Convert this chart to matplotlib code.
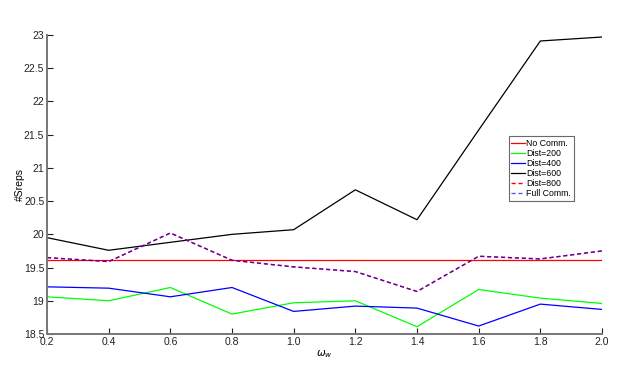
import numpy as np
import matplotlib.pyplot as plt

plt.rcParams['font.family'] = ['Liberation Sans', 'DejaVu Sans']

omega = [0.2, 0.4, 0.6, 0.8, 1.0, 1.2, 1.4, 1.6, 1.8, 2.0]
no_comm = [19.61] * 10
dist200 = [19.06, 19.00, 19.20, 18.80, 18.97, 19.00, 18.61, 19.17, 19.04, 18.96]
dist400 = [19.21, 19.19, 19.06, 19.20, 18.84, 18.92, 18.89, 18.62, 18.95, 18.87]
dist600 = [19.95, 19.76, 19.88, 20.00, 20.07, 20.67, 20.22, 21.57, 22.91, 22.97]
dist800 = [19.65, 19.59, 20.02, 19.61, 19.51, 19.44, 19.14, 19.67, 19.63, 19.75]
full_comm = [19.65, 19.59, 20.02, 19.61, 19.51, 19.44, 19.14, 19.67, 19.63, 19.75]

xticks = [0.2, 0.4, 0.6, 0.8, 1.0, 1.2, 1.4, 1.6, 1.8, 2.0]
yticks = [18.5, 19, 19.5, 20, 20.5, 21, 21.5, 22, 22.5, 23]

fig = plt.figure(figsize=(6.21, 3.67), dpi=100)
ax = fig.add_axes([0.0757, 0.0899, 0.8937, 0.8147])

ax.plot(omega, no_comm, color='#ff0000', lw=0.9, label='No Comm.')
ax.plot(omega, dist200, color='#00ff00', lw=0.9, label='Dist=200')
ax.plot(omega, dist400, color='#0000ff', lw=0.9, label='Dist=400')
ax.plot(omega, dist600, color='black', lw=0.9, label='Dist=600')
ax.plot(omega, dist800, color='#ff0000', lw=1.0, ls=(0, (3, 2)), label='Dist=800')
ax.plot(omega, full_comm, color='#0000ff', lw=1.0, ls=(0, (3, 2)), alpha=0.65,
        label='Full Comm.')

ax.set_xlim(0.2, 2.0)
ax.set_ylim(18.5, 23)
ax.set_xticks(xticks)
ax.set_xticklabels(['%.1f' % v for v in xticks])
ax.set_yticks(yticks)
ax.set_yticklabels(['%g' % v for v in yticks])

for s in ['top', 'right']:
    ax.spines[s].set_visible(False)
for s in ['left', 'bottom']:
    ax.spines[s].set_color('#777777')
    ax.spines[s].set_linewidth(1.4)
ax.tick_params(direction='in', length=4, width=0.8, labelsize=7.5, pad=2,
               colors='#222222')

ax.set_ylabel('#Sreps', fontsize=7.5, labelpad=-1)
ax.set_xlabel(r'$\omega_w$', fontsize=7.5, labelpad=1)

leg = ax.legend(loc='upper left', bbox_to_anchor=(0.832, 0.662),
                fontsize=6.3, handlelength=1.5, handletextpad=0.2,
                borderpad=0.3, labelspacing=0.12, frameon=True, fancybox=False,
                borderaxespad=0)
leg.get_frame().set_edgecolor('#444444')
leg.get_frame().set_linewidth(0.8)

fig.savefig('out.png', dpi=100)
